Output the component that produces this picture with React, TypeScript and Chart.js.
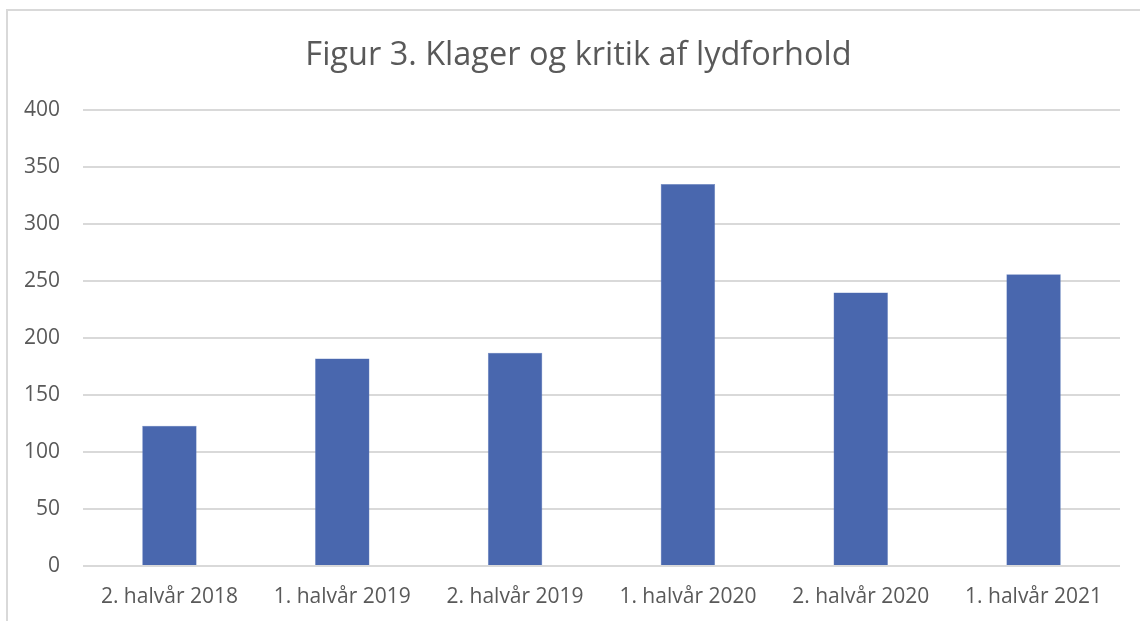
import React, { useEffect, useRef } from "react";
import { Chart, registerables } from "chart.js";

Chart.register(...registerables);

const categories = [
  "2. halvår 2018",
  "1. halvår 2019",
  "2. halvår 2019",
  "1. halvår 2020",
  "2. halvår 2020",
  "1. halvår 2021",
];
const complaints = [123, 182, 187, 335, 240, 256];
const titleText = "Figur 3. Klager og kritik af lydforhold";

export default function App() {
  const ref = useRef<HTMLCanvasElement | null>(null);

  useEffect(() => {
    document.body.style.margin = "0";
    const ctx = ref.current;
    if (!ctx) return;
    const chart = new Chart(ctx, {
      type: "bar",
      data: {
        labels: categories,
        datasets: [
          {
            data: complaints,
            backgroundColor: "#4967ae",
            borderColor: "#6a84c0",
            borderWidth: 0.5,
            categoryPercentage: 1,
            barPercentage: 0.315,
          },
        ],
      },
      options: {
        animation: false,
        responsive: false,
        maintainAspectRatio: false,
        layout: { padding: { left: 37, right: 20, top: 0, bottom: 0 } },
        plugins: {
          legend: { display: false },
          tooltip: { enabled: false },
          title: {
            display: true,
            text: titleText,
            color: "#595959",
            font: { family: "'Open Sans'", size: 32.5, weight: "normal" },
            padding: { top: 36, bottom: 35 },
          },
        },
        scales: {
          x: {
            afterFit: (s: any) => {
              s.height = 55;
            },
            grid: { display: false, drawTicks: false },
            border: { display: false },
            ticks: {
              color: "#595959",
              font: { family: "'Open Sans'", size: 21 },
              padding: 18,
              maxRotation: 0,
              autoSkip: false,
            },
          },
          y: {
            min: 0,
            max: 400,
            afterFit: (s: any) => {
              s.width = 46;
              s._computeLabelArea = () => undefined;
            },
            grid: { color: "#d9d9d9", lineWidth: 2, drawTicks: false },
            border: { display: false },
            ticks: {
              stepSize: 50,
              color: "#595959",
              font: { family: "'Open Sans'", size: 21 },
              padding: 23,
            },
          },
        },
      },
    });
    return () => chart.destroy();
  }, []);

  return (
    <div style={{ position: "fixed", left: 0, top: 0, width: 1140, height: 621, background: "#fff", overflow: "hidden" }}>
      <div
        style={{
          position: "absolute",
          left: 6,
          top: 9,
          width: 1200,
          height: 700,
          border: "2px solid #d9d9d9",
          boxSizing: "border-box",
        }}
      />
      <canvas ref={ref} width={1140} height={621} style={{ position: "absolute", left: 0, top: 0, width: 1140, height: 621 }} />
    </div>
  );
}
